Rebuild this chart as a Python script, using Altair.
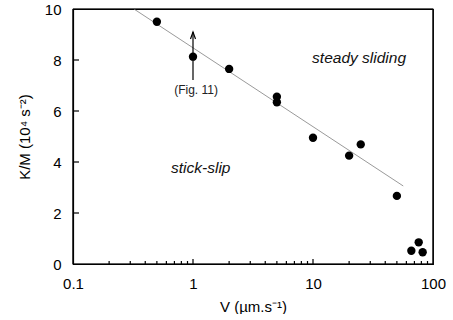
import altair as alt
import pandas as pd

# measured points
vel = [0.5, 1, 2, 5, 5, 10, 20, 25, 50, 66, 76, 82]
km = [9.5, 8.13, 7.65, 6.56, 6.34, 4.95, 4.25, 4.69, 2.67, 0.52, 0.85, 0.46]

# fitted line end points
fit_v = [0.322, 56.5]
fit_k = [10.0, 3.06]

# arrow at V = 1
arrow_v = [1]
arrow_k0 = [7.22]
arrow_k1 = [9.1]

# labels
lab_text = ["steady sliding", "stick-slip"]
lab_v = [24.2, 1.16]
lab_k = [7.87, 3.56]
fig_text = ["(Fig. 11)"]
fig_v = [1.06]
fig_k = [6.67]

x_ticks = [0.1, 1, 10, 100]
y_ticks = [0, 2, 4, 6, 8, 10]
x_minor = [0.2, 0.3, 0.4, 0.5, 0.6, 0.7, 0.8, 0.9,
           2, 3, 4, 5, 6, 7, 8, 9,
           20, 30, 40, 50, 60, 70, 80, 90]
x_major = [1, 10]
y_major = [2, 4, 6, 8]

# frame sides (bottom, top, left, right)
frame_v0 = [0.1, 0.1, 0.1, 100]
frame_v1 = [100, 100, 0.1, 100]
frame_k0 = [0, 10, 0, 0]
frame_k1 = [0, 10, 10, 10]

FONT = "Liberation Sans"
LW = 1.2

xs = alt.Scale(type="log", domain=[0.1, 100], nice=False)
ys = alt.Scale(domain=[0, 10], nice=False)
xa = alt.Axis(values=x_ticks, format="~g", title="V (µm.s⁻¹)", ticks=False,
              labelPadding=12, grid=False, titlePadding=8, labelFlush=False,
              domainColor="black", domainWidth=LW)
ya = alt.Axis(values=y_ticks, title="K/M (10⁴ s⁻²)", ticks=False,
              labelPadding=12, grid=False, titlePadding=12, labelFlush=False,
              domainColor="black", domainWidth=LW)


def X(f):
    return alt.X(f, type="quantitative", scale=xs, axis=xa)


def Y(f):
    return alt.Y(f, type="quantitative", scale=ys, axis=ya)


pts = pd.DataFrame({"v": vel, "k": km})
fit = pd.DataFrame({"v": fit_v, "k": fit_k})
arr = pd.DataFrame({"v": arrow_v, "k": arrow_k0, "k2": arrow_k1})
labs = pd.DataFrame({"v": lab_v, "k": lab_k, "t": lab_text})
figl = pd.DataFrame({"v": fig_v, "k": fig_k, "t": fig_text})
xmin = pd.DataFrame({"v": x_minor, "k": [0] * len(x_minor)})
xmaj = pd.DataFrame({"v": x_major, "k": [0] * len(x_major)})
ymaj = pd.DataFrame({"v": [0.1] * len(y_major), "k": y_major})
frm = pd.DataFrame({"v": frame_v0, "v2": frame_v1, "k": frame_k0, "k2": frame_k1})

line = alt.Chart(fit).mark_line(color="#9a9a9a", strokeWidth=1).encode(x=X("v"), y=Y("k"))
dots = alt.Chart(pts).mark_circle(size=70, color="black", opacity=1).encode(x=X("v"), y=Y("k"))
shaft = alt.Chart(arr).mark_rule(color="black", strokeWidth=1.2).encode(
    x=X("v"), y=Y("k"), y2=alt.Y2("k2"))
head = alt.Chart(arr).mark_point(
    shape="M-1,2.8L0,0L1,2.8", size=25, filled=False, color="black", strokeWidth=1.2, opacity=1
).encode(x=X("v"), y=Y("k2"))
txt = alt.Chart(labs).mark_text(font=FONT, fontSize=15.5, fontStyle="italic", color="#111",
                                align="center", baseline="alphabetic").encode(
    x=X("v"), y=Y("k"), text="t")
ftxt = alt.Chart(figl).mark_text(font=FONT, fontSize=12, color="#222",
                                 align="center", baseline="alphabetic").encode(
    x=X("v"), y=Y("k"), text="t")
frame = alt.Chart(frm).mark_rule(color="#000000", strokeWidth=LW, opacity=1).encode(
    x=X("v"), x2=alt.X2("v2"), y=Y("k"), y2=alt.Y2("k2"))
tmin = alt.Chart(xmin).mark_rule(color="#000000", strokeWidth=LW, y2Offset=-3).encode(
    x=X("v"), y=Y("k"), y2=alt.Y2("k"))
tmaj = alt.Chart(xmaj).mark_rule(color="#000000", strokeWidth=LW, y2Offset=-5).encode(
    x=X("v"), y=Y("k"), y2=alt.Y2("k"))
tyk = alt.Chart(ymaj).mark_rule(color="#000000", strokeWidth=LW, x2Offset=6).encode(
    x=X("v"), x2=alt.X2("v"), y=Y("k"))

chart = alt.layer(line, dots, shaft, head, txt, ftxt, frame, tmin, tmaj, tyk).properties(
    width=360, height=255,
    padding={"left": 17, "top": 2, "right": 0, "bottom": 0},
).configure_view(stroke="#000000", strokeWidth=LW).configure_axis(
    labelFont=FONT, titleFont=FONT,
    labelFontSize=15, titleFontSize=15, titleFontWeight="normal",
    labelColor="black", titleColor="black",
)

chart.save("out.html", embed_options={"renderer": "svg", "actions": False})
